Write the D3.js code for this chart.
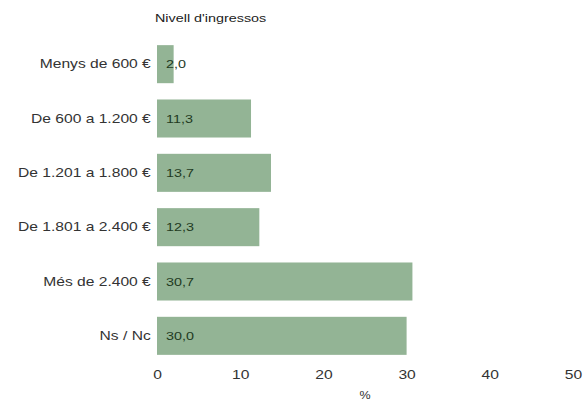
<!DOCTYPE html>
<html><head><meta charset="utf-8">
<script src="https://cdn.jsdelivr.net/npm/d3@7"></script>
<style>body{margin:0;background:#fff;}svg{display:block;font-family:"Liberation Sans",Arial,sans-serif;}</style>
</head><body>
<svg id="c" width="586" height="402"></svg>
<script>
const categories = ["Menys de 600 €","De 600 a 1.200 €","De 1.201 a 1.800 €","De 1.801 a 2.400 €","Més de 2.400 €","Ns / Nc"];
const values = [2.0, 11.3, 13.7, 12.3, 30.7, 30.0];
const valueLabels = ["2,0","11,3","13,7","12,3","30,7","30,0"];
const xTicks = [0,10,20,30,40,50];
const title = "Nivell d'ingressos";
const xTitle = "%";

const SX = 1.25; // horizontal text stretch seen in the reference
const svg = d3.select("#c");
const x = d3.scaleLinear().domain([0,50]).range([157,573]);
const y = d3.scaleBand().domain(categories).range([37,363]).paddingInner(0.3).paddingOuter(0.15);

svg.append("text").attr("transform",`translate(155,22) scale(${SX},1)`)
  .attr("font-size",11.5).attr("fill","#222").text(title);

svg.selectAll("rect.bar").data(values).join("rect").attr("class","bar")
  .attr("x",x(0)).attr("y",(d,i)=>y(categories[i]))
  .attr("width",d=>x(d)-x(0)).attr("height",y.bandwidth())
  .attr("fill","#93b495");

svg.selectAll("text.val").data(values).join("text").attr("class","val")
  .attr("transform",(d,i)=>`translate(${x(0)+9},${y(categories[i])+y.bandwidth()/2}) scale(${SX},1)`)
  .attr("dy","0.35em").attr("font-size",11.5).attr("fill","#1f3a1f")
  .text((d,i)=>valueLabels[i]);

const yAxis = d3.axisLeft(y).tickSize(0).tickPadding(5);
const gy = svg.append("g").attr("transform",`translate(${x(0)},0)`).call(yAxis);
gy.select(".domain").remove();
gy.selectAll("text").attr("font-size",12.5).attr("fill","#333")
  .attr("font-family","Liberation Sans, Arial, sans-serif").attr("transform",`scale(${SX},1)`);

const xAxis = d3.axisBottom(x).tickValues(xTicks).tickSize(0).tickPadding(7);
const gx = svg.append("g").attr("transform","translate(0,363)").call(xAxis);
gx.select(".domain").remove();
gx.selectAll("text").attr("font-size",12.5).attr("fill","#333")
  .attr("font-family","Liberation Sans, Arial, sans-serif").attr("transform",`scale(${SX},1)`);

svg.append("text").attr("transform",`translate(365,399) scale(${SX},1)`).attr("text-anchor","middle")
  .attr("font-size",10).attr("fill","#333").text(xTitle);
</script>
</body></html>
